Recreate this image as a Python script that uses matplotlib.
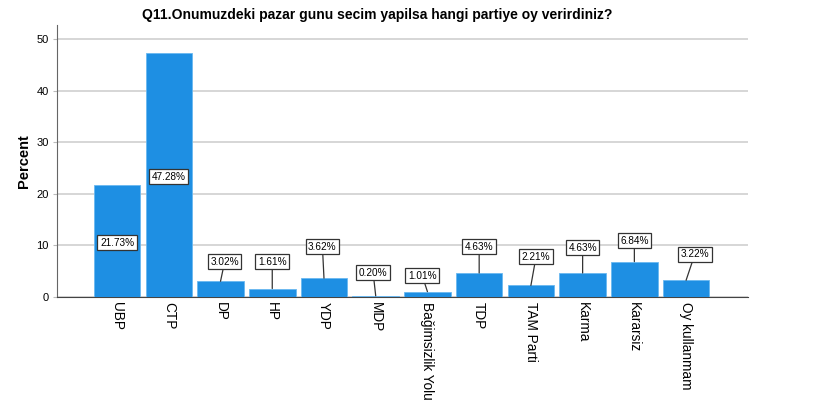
import matplotlib.pyplot as plt
import numpy as np

plt.rcParams['font.family'] = ['Liberation Sans', 'DejaVu Sans']

parties = ["UBP", "CTP", "DP", "HP", "YDP", "MDP", "Bağimsizlik Yolu", "TDP",
           "TAM Parti", "Karma", "Kararsiz", "Oy kullanmam"]
percent = [21.73, 47.28, 3.02, 1.61, 3.62, 0.20, 1.01, 4.63, 2.21, 4.63, 6.84, 3.22]

# where the value boxes sit (data coords), inside the tall bars, above the short ones
label_y = [10.5, 23.3, 6.8, 6.8, 9.7, 4.7, 4.1, 9.7, 7.8, 9.5, 10.9, 8.3]
label_dx = [0, 0, 0.08, 0, -0.03, -0.05, -0.1, 0, 0.1, 0, 0, 0.17]

fig = plt.figure(figsize=(8.15, 4.05), dpi=100)
ax = fig.add_axes([0.07, 0.267, 0.848, 0.671])

x = np.arange(len(parties))
ax.bar(x, percent, width=0.9, color='#1e8fe3', edgecolor='#6ab8f0', linewidth=0.6, zorder=3)

for i, v in enumerate(percent):
    box = dict(boxstyle='square,pad=0.25', fc='white', ec='#333333', lw=0.9)
    if label_y[i] < v:
        ax.text(i, label_y[i], f"{v:.2f}%", ha='center', va='center', fontsize=7.2, bbox=box, zorder=5)
    else:
        ax.annotate(f"{v:.2f}%", xy=(i, v), xytext=(i + label_dx[i], label_y[i]),
                    ha='center', va='center', fontsize=7.2, bbox=box, zorder=5,
                    arrowprops=dict(arrowstyle='-', color='#333333', lw=0.9, shrinkA=0, shrinkB=0))

ax.set_xlim(-1.16, 12.2)
ax.set_ylim(0, 52.7)
ax.set_yticks(np.arange(0, 51, 10))
ax.set_xticks(x)
ax.set_xticklabels(parties, rotation=270, fontsize=9.8, va='top')
ax.tick_params(axis='x', length=0, pad=4)
ax.tick_params(axis='y', length=3, color='#bbbbbb', labelsize=8, pad=3)
ax.grid(axis='y', color='#d0d0d0', lw=1.2, zorder=0)
for s in ['top', 'right']:
    ax.spines[s].set_visible(False)
ax.spines['left'].set_color('#666666')
ax.spines['bottom'].set_color('#444444')

ax.set_ylabel("Percent", fontsize=10.5, fontweight='bold')
fig.text(0.463, 0.962, "Q11.Onumuzdeki pazar gunu secim yapilsa hangi partiye oy verirdiniz?",
         ha='center', va='center', fontsize=10, fontweight='bold')

fig.savefig('out.png')
